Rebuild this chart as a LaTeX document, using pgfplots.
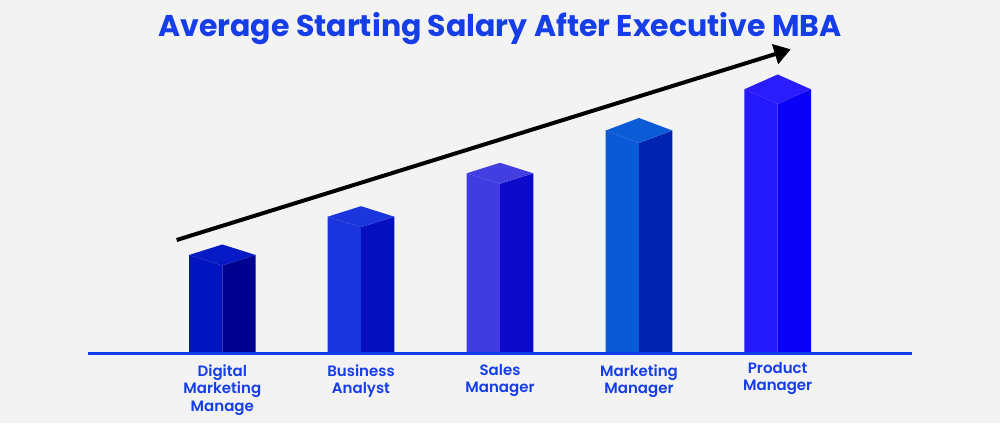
\documentclass[border=0pt]{standalone}
\usepackage{pgfplots}
\pgfplotsset{compat=1.18}
\usetikzlibrary{arrows.meta}
\usepackage{fontspec}
\setmainfont{Poppins}
\newfontfamily\labfont{Poppins}[UprightFont=* SemiBold]
\definecolor{bgc}{RGB}{243,243,243}
\definecolor{txtblue}{RGB}{22,62,232}
\definecolor{axblue}{RGB}{15,60,240}
% bar face colours: L = left face, R = right face, T = top
\definecolor{aL}{RGB}{2,20,192}\definecolor{aR}{RGB}{0,0,142}\definecolor{aT}{RGB}{6,26,198}
\definecolor{bL}{RGB}{26,52,222}\definecolor{bR}{RGB}{6,16,192}\definecolor{bT}{RGB}{28,54,222}
\definecolor{cL}{RGB}{64,60,226}\definecolor{cR}{RGB}{14,10,202}\definecolor{cT}{RGB}{66,62,226}
\definecolor{dL}{RGB}{10,90,216}\definecolor{dR}{RGB}{0,34,176}\definecolor{dT}{RGB}{12,92,216}
\definecolor{eL}{RGB}{36,24,252}\definecolor{eR}{RGB}{10,0,246}\definecolor{eT}{RGB}{42,28,252}

\begin{document}
\begin{tikzpicture}
\begin{axis}[
  width=15cm, height=6.345cm, scale only axis,
  xmin=0, xmax=1000, ymin=0, ymax=423, y dir=reverse,
  hide axis, clip=false]
% background
\addplot[fill=bgc, draw=none] coordinates {(0,0)(1000,0)(1000,423)(0,423)} -- cycle;

% Digital Marketing Manage
\addplot[fill=aL, draw=none] coordinates {(189,353)(189,255)(222.3,265.5)(222.3,353)} -- cycle;
\addplot[fill=aR, draw=none] coordinates {(222.3,353)(222.3,265.5)(255.7,255)(255.7,353)} -- cycle;
\addplot[fill=aT, draw=none] coordinates {(189,255)(222.3,244.5)(255.7,255)(222.3,265.5)} -- cycle;
% Business Analyst
\addplot[fill=bL, draw=none] coordinates {(327.7,353)(327.7,216.7)(361,227.2)(361,353)} -- cycle;
\addplot[fill=bR, draw=none] coordinates {(361,353)(361,227.2)(394.3,216.7)(394.3,353)} -- cycle;
\addplot[fill=bT, draw=none] coordinates {(327.7,216.7)(361,206.2)(394.3,216.7)(361,227.2)} -- cycle;
% Sales Manager
\addplot[fill=cL, draw=none] coordinates {(466.7,353)(466.7,173.3)(500,183.8)(500,353)} -- cycle;
\addplot[fill=cR, draw=none] coordinates {(500,353)(500,183.8)(533.3,173.3)(533.3,353)} -- cycle;
\addplot[fill=cT, draw=none] coordinates {(466.7,173.3)(500,162.8)(533.3,173.3)(500,183.8)} -- cycle;
% Marketing Manager
\addplot[fill=dL, draw=none] coordinates {(605.7,353)(605.7,130.5)(639,143)(639,353)} -- cycle;
\addplot[fill=dR, draw=none] coordinates {(639,353)(639,143)(672.3,130.5)(672.3,353)} -- cycle;
\addplot[fill=dT, draw=none] coordinates {(605.7,130.5)(639,118)(672.3,130.5)(639,143)} -- cycle;
% Product Manager
\addplot[fill=eL, draw=none] coordinates {(744.3,353)(744.3,89.3)(777.7,103.8)(777.7,353)} -- cycle;
\addplot[fill=eR, draw=none] coordinates {(777.7,353)(777.7,103.8)(811,89.3)(811,353)} -- cycle;
\addplot[fill=eT, draw=none] coordinates {(744.3,89.3)(777.7,74.5)(811,89.3)(777.7,103.8)} -- cycle;

% baseline
\addplot[axblue, line width=1.3pt] coordinates {(88,353.5)(912,353.5)};
% trend arrow
\addplot[black, line width=1.7pt, -{Triangle[length=7pt,width=8.6pt]}] coordinates {(176.7,240)(790.7,49.3)};

% title and labels
\node[txtblue, font=\bfseries\fontsize{12.8}{14}\selectfont] at (axis cs:500,29) {Average Starting Salary After Executive MBA};
\begin{scope}[every node/.style={txtblue, align=center, anchor=north, font=\labfont\fontsize{6.4}{7.5}\selectfont}]
\node at (axis cs:222.3,356) {Digital\\Marketing\\Manage};
\node at (axis cs:361,356) {Business\\Analyst};
\node at (axis cs:500,356) {Sales\\Manager};
\node at (axis cs:639,356) {Marketing\\Manager};
\node at (axis cs:777.7,354) {Product\\Manager};
\end{scope}
\end{axis}
\end{tikzpicture}
\end{document}
